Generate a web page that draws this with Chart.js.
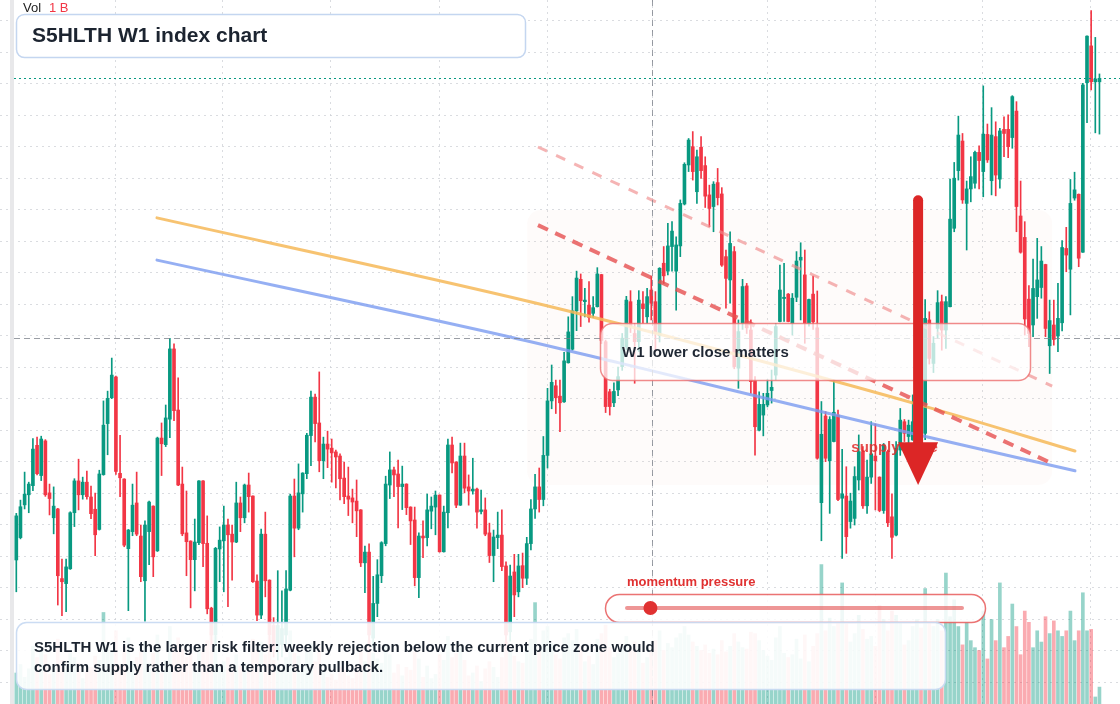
<!DOCTYPE html>
<html>
<head>
<meta charset="utf-8">
<script src="https://cdn.jsdelivr.net/npm/chart.js@4.4.1/dist/chart.umd.min.js"></script>
<style>
  html, body { margin: 0; padding: 0; background: #fff; }
  #wrap { position: relative; width: 1120px; height: 704px; }
</style>
</head>
<body>
<div id="wrap"><canvas id="chart" width="1120" height="704"></canvas></div>
<script>
// weekly candles, oldest first
const opens = [38.8,45.9,56.3,59.5,62.4,75.2,65.6,76.6,60.1,52.2,
  55.0,32.9,31.3,36.0,53.8,63.9,59.5,63.5,58.8,54.9,
  48.5,65.9,82.1,90.3,96.9,66.3,64.5,42.4,47.8,56.9,
  46.4,32.2,47.8,55.9,41.7,77.5,75.4,83.5,105.8,86.4,
  62.9,47.4,44.8,38.9,44.3,63.9,44.1,23.5,15.0,42.3,
  44.9,49.9,47.0,44.5,56.9,52.2,62.6,59.1,32.1,21.3,
  47.0,32.4,18.0,10.0,12.0,15.0,29.2,59.1,48.9,59.8,
  66.2,78.3,90.5,82.3,70.3,75.6,74.3,73.1,71.8,64.8,
  59.1,58.5,57.5,54.7,37.9,41.3,14.0,25.0,33.8,44.0,
  62.6,67.4,66.1,62.1,62.9,55.6,51.5,33.2,46.4,45.9,
  54.3,55.6,59.4,41.4,53.8,75.3,69.9,56.2,71.8,62.0,
  60.7,61.3,54.2,54.7,47.4,40.2,45.9,46.7,36.9,16.0,
  35.0,28.7,37.0,33.0,44.0,55.0,62.0,58.0,72.0,89.3,
  94.1,90.8,89.0,101.4,105.7,117.9,127.9,120.8,119.7,117.1,
  119.2,129.4,108.1,92.2,88.7,92.8,100.2,106.5,120.8,110.7,
  108.1,120.1,116.0,124.5,120.8,110.0,133.0,130.5,138.3,130.5,
  138.5,151.8,164.2,170.0,155.7,169.8,164.0,154.7,151.0,158.6,
  155.0,135.1,127.7,136.7,99.7,113.9,125.8,111.8,95.7,80.0,
  84.8,88.0,92.6,97.5,114.5,121.8,123.2,113.9,122.2,134.0,
  129.3,113.9,123.2,112.5,57.0,84.5,70.3,76.4,84.8,58.4,
  59.1,51.0,52.0,64.2,73.2,56.0,65.1,71.8,65.1,54.5,
  73.2,52.5,46.7,73.7,82.7,78.0,76.9,82.7,88.0,79.0,
  115.0,101.2,112.3,120.8,111.8,119.2,144.1,162.4,171.8,152.0,
  156.6,158.4,168.2,162.1,173.9,159.2,173.2,159.7,175.5,175.5,
  172.9,181.3,148.0,141.2,121.6,113.4,122.4,125.3,132.6,106.8,
  113.4,109.9,114.1,137.7,131.1,153.7,154.9,136.5,190.3,202.0,
  190.6,190.6];
const highs = [53.6,57.8,66.7,63.5,77.3,77.8,78.1,77.0,62.9,62.0,
  55.2,39.1,39.1,54.1,64.6,70.8,65.1,67.0,62.3,60.0,
  67.3,89.3,92.4,102.9,97.2,78.4,64.6,48.5,62.9,66.7,
  49.9,51.2,57.5,56.0,77.8,82.3,88.0,109.2,107.4,96.6,
  68.3,60.7,44.9,51.8,64.0,64.0,52.8,23.8,42.8,49.3,
  55.9,51.8,49.9,63.5,58.8,62.9,66.4,59.2,34.1,48.6,
  54.0,32.5,20.5,35.4,29.0,35.4,59.7,64.5,69.3,66.5,
  79.0,92.4,91.5,98.5,77.8,79.7,77.2,73.7,72.5,69.9,
  68.3,61.3,64.2,54.8,43.2,43.9,33.6,38.9,44.6,65.4,
  73.1,68.3,70.5,68.6,63.0,55.7,55.6,47.4,51.2,59.7,
  58.8,60.7,59.5,55.9,77.2,77.8,70.0,75.9,75.9,65.8,
  71.1,61.6,61.0,58.5,50.5,48.3,54.0,54.7,38.2,37.2,
  40.6,40.6,41.0,46.0,58.0,66.0,68.0,78.0,93.3,100.7,
  95.9,95.9,104.7,116.0,122.4,130.5,129.6,125.0,127.2,122.4,
  131.6,129.5,108.6,93.0,95.0,100.0,110.7,122.5,124.3,113.9,
  124.3,124.0,125.0,128.9,124.0,131.6,138.3,145.7,146.2,141.4,
  153.1,164.9,172.6,174.8,168.9,173.2,166.8,157.8,158.9,163.1,
  157.0,137.2,143.0,138.3,115.0,127.9,126.6,115.0,97.0,92.2,
  91.7,96.1,99.1,113.9,132.4,133.0,123.4,123.4,136.7,139.5,
  137.2,121.6,128.9,124.2,89.1,85.9,84.3,95.9,86.4,73.9,
  68.4,60.0,68.4,78.5,74.8,70.5,82.7,82.0,65.2,75.8,
  73.7,59.8,76.4,86.9,83.4,83.2,91.2,90.0,92.0,121.5,
  117.6,109.7,124.3,122.9,122.4,159.7,165.0,179.7,174.2,159.1,
  166.8,168.6,170.3,189.3,177.2,182.4,177.9,175.8,179.5,180.1,
  186.2,184.3,159.1,146.2,125.9,134.3,140.9,138.3,132.7,121.3,
  121.3,126.6,140.2,144.4,159.6,161.9,155.0,190.1,205.2,213.2,
  204.7,193.1];
const lows = [28.7,45.5,55.0,53.8,60.8,65.8,64.0,59.0,53.1,47.1,
  24.5,21.1,22.4,35.8,49.4,54.7,58.1,58.1,51.9,40.2,
  48.3,65.7,72.2,90.0,66.0,58.9,43.0,22.7,46.5,46.5,
  31.9,19.4,37.3,33.5,41.5,65.6,74.8,77.6,83.0,62.4,
  46.5,33.8,23.6,29.0,43.7,36.7,21.7,12.0,12.0,31.9,
  28.7,24.0,32.4,44.3,47.8,50.6,54.0,31.7,19.5,20.2,
  27.1,12.0,8.0,7.0,8.0,12.0,29.0,39.8,48.4,54.0,
  64.6,68.7,76.3,66.8,64.6,68.1,63.5,61.7,57.9,56.7,
  52.9,50.6,46.2,36.7,28.4,12.0,11.0,20.8,31.6,43.3,
  58.3,58.9,49.0,54.8,53.2,43.7,30.6,26.8,39.5,43.3,
  48.7,46.8,41.3,41.3,49.0,66.4,55.4,56.1,60.1,56.2,
  59.7,48.9,53.4,46.5,38.0,31.9,42.4,35.4,12.0,13.0,
  20.8,27.1,30.0,31.0,42.0,52.0,54.0,56.0,68.0,86.8,
  85.3,79.5,88.8,101.3,105.4,111.6,112.9,116.0,114.3,115.8,
  119.1,107.5,85.6,84.8,87.5,91.0,99.0,105.5,111.0,94.9,
  105.0,113.9,113.9,115.0,105.0,108.0,126.6,129.3,130.5,118.1,
  135.1,151.5,162.1,159.4,152.0,159.9,150.7,144.6,143.0,151.5,
  132.0,118.7,120.3,99.5,93.3,112.0,110.7,91.7,72.1,79.8,
  78.2,87.4,88.6,96.0,114.4,114.5,114.4,110.2,120.8,115.0,
  107.6,113.0,112.0,70.8,44.9,70.0,53.6,76.3,57.6,39.3,
  40.9,48.9,49.9,61.0,55.2,53.6,63.1,54.7,54.1,53.6,
  49.4,39.3,46.4,72.0,76.4,74.8,76.8,80.0,77.0,77.0,
  101.0,98.3,109.2,105.4,106.0,119.1,143.0,159.4,152.0,137.2,
  152.5,156.8,156.6,154.1,165.0,154.7,154.4,156.8,166.8,166.5,
  169.5,143.0,136.2,110.2,106.5,109.7,115.5,121.9,109.7,98.0,
  107.0,104.9,111.5,130.3,116.6,153.0,131.9,136.4,177.6,188.0,
  174.4,174.0];
const closes = [52.8,55.7,59.7,62.9,74.0,66.2,77.2,59.5,58.3,55.9,
  33.8,31.9,36.6,53.8,63.9,59.5,63.5,58.9,53.5,46.8,
  66.1,81.6,90.1,97.5,66.9,64.9,43.5,48.3,56.2,47.0,
  33.5,49.9,57.2,39.8,77.5,75.7,83.9,105.8,86.2,62.6,
  47.1,44.6,38.9,44.5,63.9,44.0,23.3,15.0,42.5,45.1,
  49.9,46.8,44.5,56.9,52.2,62.6,58.9,31.9,21.3,47.0,
  32.2,15.0,10.0,18.0,17.0,29.6,59.1,48.9,60.1,66.4,
  78.4,90.5,82.1,70.3,75.6,74.0,72.8,71.5,64.6,58.9,
  58.1,57.2,54.4,37.9,41.3,15.0,25.0,34.1,44.3,62.9,
  67.4,65.8,62.1,62.9,55.4,51.2,33.2,46.4,45.8,54.7,
  55.9,59.4,41.4,54.0,75.3,69.6,56.2,71.8,61.6,60.7,
  61.3,54.0,54.7,47.0,40.2,46.1,46.7,36.7,15.0,33.7,
  27.7,36.9,33.0,44.0,55.0,62.0,58.0,72.0,89.3,95.2,
  90.3,88.7,102.0,111.2,117.9,128.3,121.1,121.3,115.8,118.9,
  129.6,108.5,87.5,87.5,92.3,97.0,109.2,121.3,113.0,108.1,
  121.3,118.6,122.4,120.3,110.7,131.4,129.0,138.5,143.2,138.8,
  152.0,164.4,172.1,162.1,166.8,162.4,154.3,150.4,158.1,153.8,
  132.4,128.2,139.3,100.2,111.3,125.6,112.5,95.4,81.1,88.2,
  88.2,91.7,93.6,112.9,124.5,122.2,114.5,121.9,133.7,134.9,
  113.9,121.5,114.4,71.1,78.7,71.1,83.4,85.7,58.0,59.8,
  46.2,57.5,65.3,73.2,56.0,65.1,72.5,70.3,54.5,75.3,
  50.6,46.0,74.3,83.2,79.0,81.6,82.7,88.0,80.0,115.5,
  102.8,107.6,120.5,111.8,120.8,147.0,160.0,173.7,153.1,156.6,
  160.5,168.2,165.6,174.0,165.8,173.7,161.0,175.0,174.2,170.0,
  185.9,151.0,136.5,115.3,110.7,125.0,127.7,133.7,112.3,114.8,
  108.8,115.5,138.0,135.6,152.0,156.3,134.6,189.6,205.1,190.6,
  191.5,191.7];
// volume in billions
const volumes = [0.22,0.28,0.19,0.25,0.41,0.33,0.38,0.35,0.21,0.27,
  0.46,0.31,0.24,0.36,0.33,0.29,0.18,0.23,0.26,0.34,
  0.31,0.65,0.42,0.38,0.52,0.28,0.41,0.47,0.3,0.33,
  0.37,0.44,0.29,0.36,0.49,0.22,0.31,0.55,0.42,0.47,
  0.39,0.33,0.36,0.28,0.4,0.37,0.45,0.51,0.48,0.26,
  0.3,0.33,0.24,0.35,0.27,0.29,0.23,0.46,0.38,0.44,
  0.35,0.48,0.31,0.27,0.25,0.33,0.52,0.36,0.34,0.28,
  0.37,0.43,0.3,0.4,0.24,0.19,0.21,0.17,0.26,0.24,
  0.2,0.18,0.27,0.39,0.3,0.45,0.36,0.32,0.29,0.41,
  0.35,0.22,0.28,0.2,0.26,0.24,0.37,0.32,0.19,0.27,
  0.18,0.21,0.35,0.31,0.48,0.33,0.36,0.4,0.31,0.2,
  0.22,0.27,0.16,0.25,0.3,0.26,0.19,0.33,0.44,0.38,
  0.34,0.3,0.29,0.41,0.46,0.72,0.37,0.52,0.55,0.43,
  0.35,0.32,0.47,0.5,0.45,0.53,0.41,0.3,0.34,0.28,
  0.46,0.5,0.56,0.4,0.33,0.36,0.42,0.48,0.39,0.44,
  0.41,0.29,0.33,0.37,0.45,0.52,0.38,0.43,0.4,0.47,
  0.5,0.55,0.49,0.44,0.41,0.38,0.42,0.36,0.39,0.35,
  0.45,0.37,0.41,0.5,0.44,0.4,0.39,0.51,0.5,0.45,
  0.38,0.34,0.31,0.47,0.55,0.36,0.33,0.35,0.46,0.32,
  0.49,0.3,0.41,0.5,0.99,0.52,0.61,0.55,0.58,0.86,
  0.57,0.44,0.5,0.63,0.53,0.46,0.48,0.41,0.7,0.6,
  0.52,0.66,0.63,0.58,0.42,0.45,0.55,0.6,0.54,0.82,
  0.58,0.55,0.6,0.52,0.93,0.62,0.74,0.55,0.42,0.58,
  0.45,0.4,0.38,0.66,0.32,0.6,0.45,0.86,0.4,0.48,
  0.71,0.55,0.35,0.66,0.58,0.4,0.52,0.44,0.62,0.5,
  0.59,0.52,0.48,0.52,0.66,0.45,0.52,0.79,0.52,0.53,
  0.05,0.12];

// overlay lines, as [week, level] pairs
const orangeWeeks = [34.9, 120, 146.5, 221.2, 256.1];
const orangeLevels = [147.4, 122.3, 113.7, 87.1, 73.4];
const blueWeeks = [34.9, 120, 146.5, 216.4, 256.1];
const blueLevels = [134.0, 109.6, 101.3, 79.1, 67.1];
const resistWeeks = [126.7, 251.3];
const resistLevels = [145.1, 69.0];
const upperWeeks = [126.7, 250.6];
const upperLevels = [169.9, 94.0];

// supply zone, arrow and crosshair
const zoneWeeks = [124.1, 250.6];
const zoneLevels = [149.9, 62.6];
const arrowWeek = 218.3;
const arrowLevels = [153, 76.2, 62.6]; // top of shaft, head base, tip
const zoneLabelAt = [202.2, 74.3];
const crossWeek = 154.2;
const crossLevel = 109.3;
const momentumLevel = 0.07;

const priceGrid = [0,10,20,30,40,50,60,70,80,90,100,110,120,130,140,150,160,170,180,190,200,210];
const weekGrid = [25, 50.8, 76.8, 102.9, 129, 154.2, 181.9, 208.1, 233.8, 259.8];

const UP = '#089981', DOWN = '#f23645';
const FONT = '"Liberation Sans", Arial, sans-serif';

const weeks = opens.map((o, i) => i + 1);
const candleColor = opens.map((o, i) => closes[i] >= o ? UP : DOWN);
const volColor = opens.map((o, i) => closes[i] >= o ? 'rgba(8,153,129,0.42)' : 'rgba(242,54,69,0.42)');
const pts = (xs, ys) => xs.map((x, i) => ({x: x, y: ys[i]}));

function rrect(ctx, x, y, w, h, r) {
  ctx.beginPath();
  ctx.moveTo(x + r, y);
  ctx.lineTo(x + w - r, y);
  ctx.arcTo(x + w, y, x + w, y + r, r);
  ctx.lineTo(x + w, y + h - r);
  ctx.arcTo(x + w, y + h, x + w - r, y + h, r);
  ctx.lineTo(x + r, y + h);
  ctx.arcTo(x, y + h, x, y + h - r, r);
  ctx.lineTo(x, y + r);
  ctx.arcTo(x, y, x + r, y, r);
  ctx.closePath();
}

const overlay = {
  id: 'overlay',
  beforeDatasetsDraw(chart) {
    const {ctx, scales: {x, y}} = chart;
    const l = x.getPixelForValue(zoneWeeks[0]), r = x.getPixelForValue(zoneWeeks[1]);
    const t = y.getPixelForValue(zoneLevels[0]), b = y.getPixelForValue(zoneLevels[1]);
    ctx.save();
    ctx.fillStyle = 'rgba(245,205,185,0.07)';
    rrect(ctx, l, t, r - l, b - t, 14);
    ctx.fill();
    ctx.restore();
  },
  afterDatasetsDraw(chart) {
    const {ctx, scales: {x, y}} = chart;
    ctx.save();

    // crosshair
    ctx.strokeStyle = 'rgba(120,125,135,0.75)';
    ctx.lineWidth = 1;
    ctx.setLineDash([6, 4]);
    const cy = Math.round(y.getPixelForValue(crossLevel)) + 0.5;
    const cx = Math.round(x.getPixelForValue(crossWeek)) + 0.5;
    ctx.beginPath(); ctx.moveTo(14, cy); ctx.lineTo(1120, cy); ctx.stroke();
    ctx.beginPath(); ctx.moveTo(cx, 0); ctx.lineTo(cx, 704); ctx.stroke();

    // last price line
    const py = Math.round(y.getPixelForValue(closes[closes.length - 1])) + 0.5;
    ctx.strokeStyle = UP;
    ctx.setLineDash([2, 3]);
    ctx.beginPath(); ctx.moveTo(14, py); ctx.lineTo(1120, py); ctx.stroke();
    ctx.setLineDash([]);

    // supply zone label
    ctx.font = 'bold 15px ' + FONT;
    ctx.fillStyle = 'rgba(224,45,45,0.85)';
    ctx.textBaseline = 'middle';
    ctx.fillText('supply zone', x.getPixelForValue(zoneLabelAt[0]), y.getPixelForValue(zoneLabelAt[1]));

    // W1 callout
    ctx.fillStyle = 'rgba(255,255,255,0.74)';
    ctx.strokeStyle = 'rgba(236,110,110,0.8)';
    ctx.lineWidth = 1.5;
    rrect(ctx, 600.5, 323.5, 430, 57, 12);
    ctx.fill(); ctx.stroke();
    ctx.fillStyle = '#1f2733';
    ctx.font = 'bold 15px ' + FONT;
    ctx.fillText('W1 lower close matters', 622, 353);

    // arrow
    const ax = x.getPixelForValue(arrowWeek);
    const a0 = y.getPixelForValue(arrowLevels[0]);
    const a1 = y.getPixelForValue(arrowLevels[1]);
    const a2 = y.getPixelForValue(arrowLevels[2]);
    ctx.strokeStyle = '#dc2626';
    ctx.fillStyle = '#dc2626';
    ctx.lineWidth = 10;
    ctx.lineCap = 'round';
    ctx.beginPath(); ctx.moveTo(ax, a0); ctx.lineTo(ax, a1); ctx.stroke();
    ctx.beginPath(); ctx.moveTo(ax - 20, a1); ctx.lineTo(ax + 20, a1); ctx.lineTo(ax, a2); ctx.closePath(); ctx.fill();
    ctx.lineCap = 'butt';

    // momentum slider
    ctx.font = 'bold 13px ' + FONT;
    ctx.fillStyle = '#e03131';
    ctx.fillText('momentum pressure', 627, 582);
    ctx.fillStyle = 'rgba(255,255,255,0.85)';
    ctx.strokeStyle = 'rgba(232,90,90,0.85)';
    ctx.lineWidth = 1.5;
    rrect(ctx, 605.5, 594.5, 380, 28, 14);
    ctx.fill(); ctx.stroke();
    ctx.strokeStyle = 'rgba(226,80,80,0.6)';
    ctx.lineWidth = 4;
    ctx.lineCap = 'round';
    ctx.beginPath(); ctx.moveTo(627, 608); ctx.lineTo(962, 608); ctx.stroke();
    ctx.fillStyle = '#e03131';
    ctx.beginPath(); ctx.arc(627 + (962 - 627) * momentumLevel, 608, 7, 0, Math.PI * 2); ctx.fill();

    // note box
    ctx.fillStyle = 'rgba(255,255,255,0.9)';
    ctx.strokeStyle = 'rgba(200,218,242,0.95)';
    ctx.lineWidth = 1.5;
    rrect(ctx, 16.5, 622.5, 929, 67, 10);
    ctx.fill(); ctx.stroke();
    ctx.fillStyle = '#1c2430';
    ctx.font = 'bold 15px ' + FONT;
    ctx.fillText('S5HLTH W1 is the larger risk filter: weekly rejection below the current price zone would', 34, 648);
    ctx.fillText('confirm supply rather than a temporary pullback.', 34, 668);

    // title box
    ctx.fillStyle = '#fff';
    ctx.strokeStyle = 'rgba(196,214,240,1)';
    rrect(ctx, 16.5, 14.5, 509, 43, 8);
    ctx.fill(); ctx.stroke();
    ctx.fillStyle = '#1c2430';
    ctx.font = 'bold 21px ' + FONT;
    ctx.fillText('S5HLTH W1 index chart', 32, 36);

    // volume legend
    ctx.font = '13px ' + FONT;
    ctx.fillStyle = '#222';
    ctx.fillText('Vol', 23, 8);
    ctx.fillStyle = DOWN;
    ctx.fillText('1 B', 49, 8);

    // left scale edge
    ctx.fillStyle = '#e8e8ea';
    ctx.fillRect(10, 0, 4, 704);
    ctx.restore();
  }
};

const gridStyle = {color: 'rgba(205,208,214,0.75)', drawTicks: false, offset: false};

new Chart(document.getElementById('chart'), {
  type: 'bar',
  data: {
    datasets: [
      {type: 'bar', data: volumes.map((v, i) => ({x: i + 1, y: v})), yAxisID: 'yv',
       backgroundColor: volColor, barThickness: 3, grouped: false, order: 10},
      {type: 'bar', data: weeks.map(w => ({x: w, y: [lows[w - 1], highs[w - 1]]})),
       backgroundColor: candleColor, barThickness: 1, grouped: false, order: 6},
      {type: 'bar', data: weeks.map(w => ({x: w, y: [opens[w - 1], closes[w - 1]]})),
       backgroundColor: candleColor, barThickness: 3, minBarLength: 1, grouped: false, order: 5},
      {type: 'line', data: pts(orangeWeeks, orangeLevels), borderColor: 'rgba(246,184,88,0.85)',
       borderWidth: 3, pointRadius: 0, cubicInterpolationMode: 'monotone', borderCapStyle: 'round', order: 3},
      {type: 'line', data: pts(blueWeeks, blueLevels), borderColor: 'rgba(122,155,240,0.8)',
       borderWidth: 3, pointRadius: 0, cubicInterpolationMode: 'monotone', borderCapStyle: 'round', order: 3},
      {type: 'line', data: pts(resistWeeks, resistLevels), borderColor: 'rgba(230,80,80,0.8)',
       borderWidth: 4, borderDash: [11, 8], pointRadius: 0, order: 2},
      {type: 'line', data: pts(upperWeeks, upperLevels), borderColor: 'rgba(240,140,140,0.65)',
       borderWidth: 3, borderDash: [10, 10], pointRadius: 0, order: 2}
    ]
  },
  options: {
    responsive: false,
    animation: false,
    devicePixelRatio: 1,
    layout: {padding: 0},
    plugins: {legend: {display: false}, tooltip: {enabled: false}},
    scales: {
      x: {
        type: 'linear', min: -2.93, max: 266.95, offset: false,
        grid: gridStyle, border: {display: false, dash: [2, 4]}, ticks: {display: false},
        afterBuildTicks: s => { s.ticks = weekGrid.map(v => ({value: v})); },
        afterFit: s => { s.height = 0; }
      },
      y: {
        type: 'linear', min: -6.92, max: 216.57,
        grid: gridStyle, border: {display: false, dash: [2, 4]}, ticks: {display: false},
        afterBuildTicks: s => { s.ticks = priceGrid.map(v => ({value: v})); },
        afterFit: s => { s.width = 0; }
      },
      yv: {type: 'linear', min: 0, max: 5, display: false}
    }
  },
  plugins: [overlay]
});
</script>
</body>
</html>
